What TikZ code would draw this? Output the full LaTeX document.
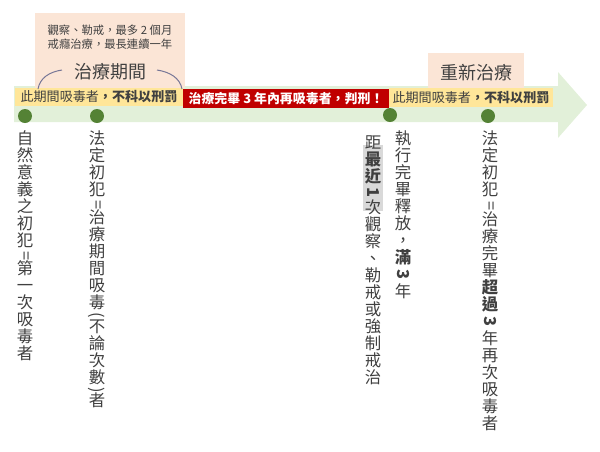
\documentclass[tikz,border=0pt]{standalone}
\usepackage{fontspec}
\setmainfont{Noto Sans CJK TC}
\usepackage{graphicx}

\definecolor{timegreen}{RGB}{226,240,217}
\definecolor{periodpink}{RGB}{251,229,214}
\definecolor{baryellow}{RGB}{255,230,153}
\definecolor{barred}{RGB}{192,0,0}
\definecolor{dotgreen}{RGB}{84,130,53}
\definecolor{textgray}{RGB}{64,64,64}
\definecolor{arcgray}{RGB}{118,118,150}
\definecolor{hlgray}{RGB}{217,217,217}

\newcommand{\vlat}[1]{\rotatebox[origin=c]{-90}{#1}}

\tikzset{every picture/.style={line width=0.75pt}}
\tikzset{
  lbltext/.style={inner sep=0.75pt, font=\fontsize{9.8}{11}\selectfont, text=textgray},
  vtext/.style={anchor=north, inner sep=0pt, align=center, font=\fontsize{12.3}{12.75}\selectfont, text=textgray},
  dot/.style={circle, fill=dotgreen, inner sep=0pt, minimum size=10.5pt},
  arcline/.style={draw=arcgray, line width=0.75pt},
}

\begin{document}
\begin{tikzpicture}[x=0.75pt,y=0.75pt,yscale=-1,xscale=1]
\useasboundingbox (0,0) rectangle (600,451);

%Shape: Right Arrow [time line]
\fill [timegreen] (14,86) -- (558,86) -- (558,72) -- (587,105) -- (558,138) -- (558,122) -- (14,122) -- cycle ;
%Shape: Rectangle [treatment period]
\fill [periodpink] (35,13) -- (185,13) -- (185,88) -- (35,88) -- cycle ;
%Shape: Rectangle [treatment again]
\fill [periodpink] (428,53) -- (524,53) -- (524,88) -- (428,88) -- cycle ;
%Shape: Rectangle
\fill [baryellow] (15,88) -- (183,88) -- (183,106) -- (15,106) -- cycle ;
%Shape: Rectangle
\fill [barred] (183,89) -- (389,89) -- (389,108) -- (183,108) -- cycle ;
%Shape: Rectangle
\fill [baryellow] (389,88) -- (553,88) -- (553,107) -- (389,107) -- cycle ;
%Shape: Rectangle [highlight]
\fill [hlgray] (363,145) -- (383,145) -- (383,211) -- (363,211) -- cycle ;

%Curve Lines
\draw [arcline] (38,89) .. controls (40,78) and (49,72) .. (62,70) ;
%Curve Lines
\draw [arcline] (157,70) .. controls (170,72) and (180,78) .. (182,89) ;

%Shape: Circle
\node [dot] (natural) at (25,116) {};
\node [dot] (legal) at (97,116) {};
\node [dot] (release) at (390,115) {};
\node [dot] (again) at (488,116) {};

% Text Node
\node [lbltext, align=center, font=\fontsize{8.5}{10.5}\selectfont] (rule) at (110,37) {觀察、勒戒，最多 2 個月\\戒癮治療，最長連續一年};
% Text Node
\node [lbltext, font=\fontsize{13.5}{16}\selectfont] (period) at (110,72) {治療期間};
% Text Node
\node [lbltext, font=\fontsize{13.5}{16}\selectfont] (retreat) at (476,73) {重新治療};
% Text Node
\node [lbltext] (free1) at (99,97) {此期間吸毒者\textbf{，不科以刑罰}};
% Text Node
\node [lbltext, text=white, font=\fontsize{9.7}{11}\selectfont\bfseries] (jail) at (286,98.5) {治療完畢 3 年內再吸毒者，判刑！};
% Text Node
\node [lbltext] (free2) at (471,97.5) {此期間吸毒者\textbf{，不科以刑罰}};

% Text Node
\node [vtext] (first) at (25,130) {自\\然\\意\\義\\之\\初\\犯\\[-2pt]\vlat{=}\\[-2pt]第\\一\\次\\吸\\毒\\者};
% Text Node
\node [vtext] (legalfirst) at (97,130) {法\\定\\初\\犯\\[-2pt]\vlat{=}\\[-2pt]治\\療\\期\\間\\吸\\毒\\[-4pt]\vlat{(}\\[-4pt]不\\論\\次\\數\\[-4pt]\vlat{)}\\[-4pt]者};
% Text Node
\node [vtext] (distance) at (373,135) {距\\\textbf{最}\\\textbf{近}\\[-1pt]\vlat{\textbf{1}}\\[-1pt]次\\觀\\察\\、\\勒\\戒\\或\\強\\制\\戒\\治};
% Text Node
\node [vtext] (served) at (403,130) {執\\行\\完\\畢\\釋\\放\\，\\\textbf{滿}\\\vlat{\textbf{3}}\\年};
% Text Node
\node [vtext] (over) at (490,130) {法\\定\\初\\犯\\[-1.5pt]\vlat{=}\\[-1.5pt]治\\療\\完\\畢\\\textbf{超}\\\textbf{過}\\\vlat{\textbf{3}}\\年\\再\\次\\吸\\毒\\者};

\end{tikzpicture}
\end{document}
